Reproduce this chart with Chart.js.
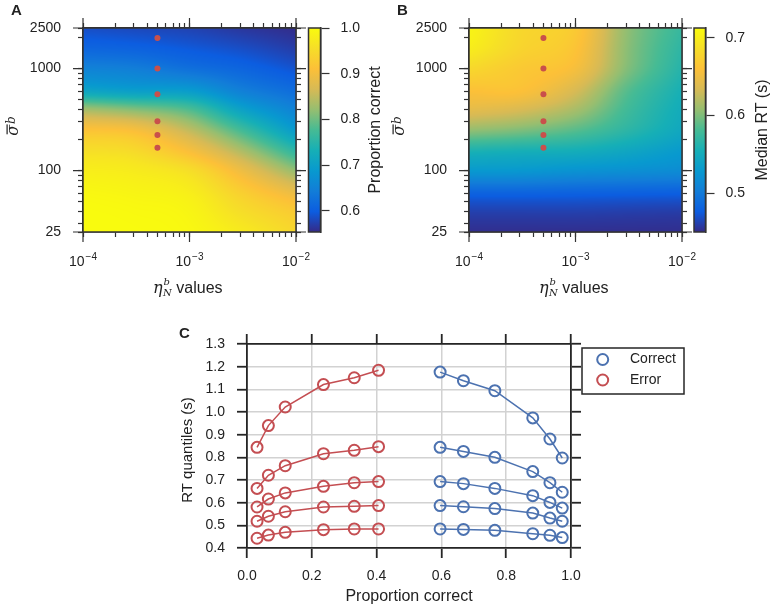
<!DOCTYPE html>
<html>
<head>
<meta charset="utf-8">
<title>Model fits</title>
<script src="https://cdn.jsdelivr.net/npm/chart.js@4.4.1/dist/chart.umd.min.js"></script>
<style>
  body { margin: 0; background: #fff; }
  #page { position: relative; width: 773px; height: 610px; overflow: hidden; background: #fff; }
  canvas { position: absolute; }
</style>
</head>
<body>
<div id="page">
  <canvas id="heatA" width="320" height="300" style="left:0px;top:0px"></canvas>
  <canvas id="barA" width="90" height="300" style="left:300px;top:0px"></canvas>
  <canvas id="heatB" width="320" height="300" style="left:386px;top:0px"></canvas>
  <canvas id="barB" width="88" height="300" style="left:685px;top:0px"></canvas>
  <canvas id="quant" width="530" height="310" style="left:170px;top:300px"></canvas>
</div>
<script>
Chart.defaults.font.family = "'Liberation Sans', Arial, Helvetica, sans-serif";
Chart.defaults.color = '#222';
Chart.defaults.animation = false;

// ---- panels A and B: values ----
const etaGrid = [1e-4, 3e-4, 1e-3, 3e-3, 1e-2];
const sigmaGrid = [25, 40, 60, 100, 150, 250, 400, 600, 1000, 1600, 2500];

// one row per sigma (ascending), one column per eta
const propCorrect = [
  [1.000, 1.000, 0.995, 0.975, 0.945],
  [1.000, 0.997, 0.990, 0.955, 0.925],
  [0.995, 0.990, 0.980, 0.935, 0.890],
  [0.980, 0.975, 0.955, 0.895, 0.820],
  [0.960, 0.952, 0.910, 0.845, 0.760],
  [0.915, 0.905, 0.850, 0.775, 0.690],
  [0.830, 0.810, 0.780, 0.705, 0.650],
  [0.712, 0.700, 0.695, 0.650, 0.620],
  [0.652, 0.645, 0.625, 0.610, 0.590],
  [0.610, 0.605, 0.595, 0.585, 0.570],
  [0.585, 0.580, 0.575, 0.565, 0.556]
];
const medianRT = [
  [0.452, 0.452, 0.452, 0.452, 0.452],
  [0.462, 0.462, 0.462, 0.461, 0.460],
  [0.481, 0.481, 0.480, 0.479, 0.478],
  [0.529, 0.528, 0.523, 0.520, 0.516],
  [0.555, 0.552, 0.550, 0.542, 0.529],
  [0.607, 0.600, 0.587, 0.568, 0.545],
  [0.644, 0.636, 0.615, 0.579, 0.550],
  [0.660, 0.660, 0.634, 0.587, 0.555],
  [0.681, 0.668, 0.655, 0.602, 0.563],
  [0.700, 0.678, 0.663, 0.605, 0.568],
  [0.707, 0.681, 0.668, 0.607, 0.573]
];

// red dots (fitted parameter sets)
const fitEta = [5e-4, 5e-4, 5e-4, 5e-4, 5e-4, 5e-4];
const fitSigma = [2000, 1000, 560, 305, 223, 167];

const etaTicks = [1e-4, 2e-4, 3e-4, 4e-4, 5e-4, 6e-4, 7e-4, 8e-4, 9e-4,
                  1e-3, 2e-3, 3e-3, 4e-3, 5e-3, 6e-3, 7e-3, 8e-3, 9e-3, 1e-2];
const etaMajor = [1e-4, 1e-3, 1e-2];
const etaExponents = ['−4', '−3', '−2'];
const sigmaTicks = [25, 30, 40, 50, 60, 70, 80, 90, 100, 200, 300, 400, 500,
                    600, 700, 800, 900, 1000, 2000, 2500];
const sigmaMajor = [25, 100, 1000, 2500];
const sigmaLabels = ['25', '100', '1000', '2500'];

const pcRange = [0.554, 1.0];
const pcTicks = [0.6, 0.7, 0.8, 0.9, 1.0];
const rtRange = [0.45, 0.7125];
const rtTicks = [0.5, 0.6, 0.7];

// ---- panel C: RT quantiles (0.1 .. 0.9) vs proportion ----
const seriesNames = ['Correct', 'Error'];
const errorProp = [0.031, 0.066, 0.118, 0.236, 0.331, 0.406];
const correctProp = [0.596, 0.668, 0.765, 0.882, 0.935, 0.973];
const errorQuantiles = [
  [0.443, 0.457, 0.469, 0.481, 0.484, 0.484],
  [0.518, 0.540, 0.560, 0.581, 0.584, 0.587],
  [0.581, 0.616, 0.643, 0.672, 0.688, 0.693],
  [0.663, 0.721, 0.763, 0.816, 0.831, 0.847],
  [0.844, 0.940, 1.022, 1.121, 1.151, 1.184]
];
const correctQuantiles = [
  [0.484, 0.482, 0.478, 0.463, 0.456, 0.446],
  [0.587, 0.582, 0.574, 0.554, 0.532, 0.518],
  [0.693, 0.684, 0.663, 0.631, 0.601, 0.576],
  [0.844, 0.826, 0.800, 0.737, 0.688, 0.646],
  [1.176, 1.138, 1.094, 0.974, 0.881, 0.797]
];
const qTicksX = [0, 0.2, 0.4, 0.6, 0.8, 1.0];
const qTicksY = [0.4, 0.5, 0.6, 0.7, 0.8, 0.9, 1.0, 1.1, 1.2, 1.3];

const RED = '#c44e52';
const BLUE = '#4c72b0';
const DOT = '#c9504b';
const INK = '#222';
const SANS = "'Liberation Sans', Arial, sans-serif";
const SERIF = '"DejaVu Serif", "Liberation Serif", serif';

// parula-like colour map
const cmapStops = [[53, 42, 135], [12, 93, 224], [18, 125, 216], [8, 153, 207],
  [22, 175, 182], [70, 187, 148], [150, 190, 112], [215, 186, 85],
  [252, 192, 56], [246, 222, 40], [249, 251, 14]];

function cmap(t) {
  t = Math.max(0, Math.min(1, t));
  const f = t * (cmapStops.length - 1);
  const i = Math.min(Math.floor(f), cmapStops.length - 2);
  const u = f - i, a = cmapStops[i], b = cmapStops[i + 1];
  return [a[0] + (b[0] - a[0]) * u, a[1] + (b[1] - a[1]) * u, a[2] + (b[2] - a[2]) * u];
}

const logEta = etaGrid.map(Math.log10);
const logSigma = sigmaGrid.map(Math.log10);

function seg(arr, v) {
  let i = 0;
  while (i < arr.length - 2 && v > arr[i + 1]) i++;
  return i;
}

// smooth (cubic hermite) lookup between the grid nodes, for drawing only
function hermite(xs, ys, x) {
  const n = xs.length, i = seg(xs, x);
  const h = xs[i + 1] - xs[i];
  const t = Math.max(0, Math.min(1, (x - xs[i]) / h));
  const slope = k => k === 0 ? (ys[1] - ys[0]) / (xs[1] - xs[0])
    : k === n - 1 ? (ys[n - 1] - ys[n - 2]) / (xs[n - 1] - xs[n - 2])
    : (ys[k + 1] - ys[k - 1]) / (xs[k + 1] - xs[k - 1]);
  const t2 = t * t, t3 = t2 * t;
  return (2 * t3 - 3 * t2 + 1) * ys[i] + (t3 - 2 * t2 + t) * h * slope(i)
    + (-2 * t3 + 3 * t2) * ys[i + 1] + (t3 - t2) * h * slope(i + 1);
}

function heatmapLayer(grid, range) {
  return {
    id: 'heatmapLayer',
    beforeDatasetsDraw(chart) {
      const { left, top, right, bottom } = chart.chartArea;
      const w = Math.ceil(right - left), h = Math.ceil(bottom - top);
      const off = document.createElement('canvas');
      off.width = w; off.height = h;
      const octx = off.getContext('2d');
      const img = octx.createImageData(w, h);
      const cols = [];
      for (let i = 0; i < w; i++) {
        const lx = Math.log10(chart.scales.x.getValueForPixel(left + i + 0.5));
        cols.push(grid.map(row => hermite(logEta, row, lx)));
      }
      for (let j = 0; j < h; j++) {
        const ly = Math.log10(chart.scales.y.getValueForPixel(top + j + 0.5));
        for (let i = 0; i < w; i++) {
          const val = hermite(logSigma, cols[i], ly);
          const c = cmap((val - range[0]) / (range[1] - range[0]));
          const k = (j * w + i) * 4;
          img.data[k] = c[0]; img.data[k + 1] = c[1]; img.data[k + 2] = c[2]; img.data[k + 3] = 255;
        }
      }
      octx.putImageData(img, 0, 0);
      chart.ctx.drawImage(off, left, top);
    }
  };
}

function drawSigmaLabel(ctx, cx, cy) {
  ctx.save();
  ctx.translate(cx, cy);
  ctx.rotate(-Math.PI / 2);
  ctx.fillStyle = INK;
  ctx.textAlign = 'left';
  ctx.textBaseline = 'alphabetic';
  ctx.font = 'italic 16px ' + SERIF;
  const ws = ctx.measureText('σ').width;
  ctx.font = 'italic 12px ' + SERIF;
  const wb = ctx.measureText('b').width;
  const x0 = -(ws + wb + 1) / 2;
  ctx.font = 'italic 16px ' + SERIF;
  ctx.fillText('σ', x0, 5);
  ctx.fillRect(x0 + 1.5, -6.5, ws - 1, 1.2);
  ctx.font = 'italic 12px ' + SERIF;
  ctx.fillText('b', x0 + ws + 1, 2);
  ctx.restore();
}

function drawEtaLabel(ctx, x, y) {
  ctx.save();
  ctx.fillStyle = INK;
  ctx.textAlign = 'left';
  ctx.textBaseline = 'alphabetic';
  ctx.font = 'italic 16px ' + SERIF;
  ctx.fillText('η', x, y);
  const we = ctx.measureText('η').width;
  ctx.font = 'italic 10px ' + SERIF;
  const wn = ctx.measureText('N').width;
  ctx.fillText('N', x + we + 0.5, y + 3);
  ctx.fillText('b', x + we + 1, y - 8);
  ctx.font = '16px ' + SANS;
  ctx.fillText('values', x + we + wn + 5, y);
  ctx.restore();
}

function heatDecor(letter) {
  return {
    id: 'heatDecor',
    afterDraw(chart) {
      const ctx = chart.ctx, a = chart.chartArea, s = chart.scales;
      ctx.save();
      ctx.strokeStyle = '#333';
      ctx.lineWidth = 1.2;
      ctx.beginPath();
      etaMajor.forEach(v => {
        const px = s.x.getPixelForValue(v);
        ctx.moveTo(px, a.bottom); ctx.lineTo(px, a.bottom + 10);
        ctx.moveTo(px, a.top); ctx.lineTo(px, a.top - 10);
      });
      sigmaMajor.forEach(v => {
        const py = s.y.getPixelForValue(v);
        ctx.moveTo(a.left, py); ctx.lineTo(a.left - 10, py);
        ctx.moveTo(a.right, py); ctx.lineTo(a.right + 10, py);
      });
      ctx.stroke();
      ctx.lineWidth = 1.5;
      ctx.strokeRect(a.left, a.top, a.right - a.left, a.bottom - a.top);

      // 10^n tick labels with a raised exponent
      ctx.fillStyle = INK;
      ctx.textAlign = 'left';
      ctx.textBaseline = 'alphabetic';
      etaMajor.forEach((v, k) => {
        const px = s.x.getPixelForValue(v);
        ctx.font = '14px ' + SANS;
        const wb = ctx.measureText('10').width;
        ctx.font = '10px ' + SANS;
        const we = ctx.measureText(etaExponents[k]).width;
        const x0 = px - (wb + we + 1) / 2;
        ctx.font = '14px ' + SANS;
        ctx.fillText('10', x0, 266);
        ctx.font = '10px ' + SANS;
        ctx.fillText(etaExponents[k], x0 + wb + 1, 260);
      });

      ctx.font = 'bold 15px ' + SANS;
      ctx.fillText(letter, 11, 15);
      ctx.restore();
      drawSigmaLabel(ctx, 13, 126);
      drawEtaLabel(ctx, a.left + 70, 293);
    }
  };
}

function heatAxis(axis, position, ticks, major, labels, size) {
  const horiz = axis === 'x';
  return {
    type: 'logarithmic',
    axis: axis,
    position: position,
    min: ticks[0],
    max: ticks[ticks.length - 1],
    afterBuildTicks: s => { s.ticks = ticks.map(v => ({ value: v })); },
    afterFit: s => {
      if (horiz) s.height = size; else s.width = size;
      s.paddingLeft = s.paddingRight = s.paddingTop = s.paddingBottom = 0;
    },
    ticks: {
      display: !!labels,
      autoSkip: false,
      maxRotation: 0,
      padding: 17,
      font: { size: 14 },
      color: INK,
      callback: v => (labels ? (labels[major.indexOf(v)] || '') : '')
    },
    grid: { drawOnChartArea: false, tickLength: 5, tickWidth: 1.2, tickColor: '#333' },
    border: { color: '#333', width: 1.5 }
  };
}

function makeHeatmap(id, grid, range, letter) {
  return new Chart(document.getElementById(id), {
    type: 'scatter',
    data: {
      datasets: [{
        label: 'fits',
        data: fitEta.map((x, i) => ({ x: x, y: fitSigma[i] })),
        pointRadius: 3,
        backgroundColor: DOT,
        borderWidth: 0
      }]
    },
    options: {
      responsive: false,
      devicePixelRatio: 1,
      events: [],
      layout: { padding: 0 },
      plugins: { legend: { display: false }, tooltip: { enabled: false } },
      scales: {
        x: heatAxis('x', 'bottom', etaTicks, etaMajor, null, 68),
        x2: heatAxis('x', 'top', etaTicks, etaMajor, null, 28),
        y: heatAxis('y', 'left', sigmaTicks, sigmaMajor, sigmaLabels, 83),
        y2: heatAxis('y', 'right', sigmaTicks, sigmaMajor, null, 24)
      }
    },
    plugins: [heatmapLayer(grid, range), heatDecor(letter)]
  });
}

function colorbarLayer(range, title, titleX) {
  return {
    id: 'colorbarLayer',
    afterDraw(chart) {
      const ctx = chart.ctx, a = chart.chartArea, y = chart.scales.y;
      const y0 = y.getPixelForValue(range[0]), y1 = y.getPixelForValue(range[1]);
      const g = ctx.createLinearGradient(0, y0, 0, y1);
      cmapStops.forEach((c, i) => g.addColorStop(i / (cmapStops.length - 1), 'rgb(' + c.join(',') + ')'));
      ctx.save();
      ctx.fillStyle = g;
      ctx.fillRect(a.left, y1, a.right - a.left, y0 - y1);
      ctx.strokeStyle = '#333';
      ctx.lineWidth = 1.5;
      ctx.strokeRect(a.left, a.top, a.right - a.left, a.bottom - a.top);
      ctx.translate(titleX, (a.top + a.bottom) / 2);
      ctx.rotate(-Math.PI / 2);
      ctx.fillStyle = INK;
      ctx.font = '16px ' + SANS;
      ctx.textAlign = 'center';
      ctx.textBaseline = 'middle';
      ctx.fillText(title, 0, 0);
      ctx.restore();
    }
  };
}

function makeColorbar(id, range, ticks, title, padLeft, axisWidth, titleX) {
  return new Chart(document.getElementById(id), {
    type: 'bar',
    data: { labels: [''], datasets: [] },
    options: {
      responsive: false,
      devicePixelRatio: 1,
      events: [],
      layout: { padding: { left: padLeft, top: 28, bottom: 68, right: 0 } },
      plugins: { legend: { display: false }, tooltip: { enabled: false } },
      scales: {
        x: { display: false },
        y: {
          position: 'right',
          min: range[0],
          max: range[1],
          afterBuildTicks: s => { s.ticks = ticks.map(v => ({ value: v })); },
          afterFit: s => { s.width = axisWidth; s.paddingTop = s.paddingBottom = 0; },
          ticks: { padding: 11, font: { size: 14 }, color: INK, callback: v => v.toFixed(1) },
          grid: { drawOnChartArea: false, tickLength: 9, tickWidth: 1.2, tickColor: '#333' },
          border: { color: '#333', width: 1.5 }
        }
      }
    },
    plugins: [colorbarLayer(range, title, titleX)]
  });
}

makeHeatmap('heatA', propCorrect, pcRange, 'A');
makeColorbar('barA', pcRange, pcTicks, 'Proportion correct', 8.5, 69.5, 76);
makeHeatmap('heatB', medianRT, rtRange, 'B');
makeColorbar('barB', rtRange, rtTicks, 'Median RT (s)', 9, 67.5, 78);

// ---- panel C ----
function series(name, xs, ys, color) {
  return {
    label: name,
    data: xs.map((x, i) => ({ x: x, y: ys[i] })),
    showLine: true,
    borderColor: color,
    borderWidth: 1.5,
    pointRadius: 5.5,
    pointBorderWidth: 2,
    pointBorderColor: color,
    pointBackgroundColor: 'rgba(0,0,0,0)',
    clip: false
  };
}

const quantSets = [];
correctQuantiles.forEach(q => quantSets.push(series(seriesNames[0], correctProp, q, BLUE)));
errorQuantiles.forEach(q => quantSets.push(series(seriesNames[1], errorProp, q, RED)));

function quantAxis(axis, position, ticks, size, withLabels) {
  const horiz = axis === 'x';
  return {
    type: 'linear',
    axis: axis,
    position: position,
    min: ticks[0],
    max: ticks[ticks.length - 1],
    afterBuildTicks: s => { s.ticks = ticks.map(v => ({ value: v })); },
    afterFit: s => {
      if (horiz) s.height = size; else s.width = size;
      s.paddingLeft = s.paddingRight = s.paddingTop = s.paddingBottom = 0;
    },
    ticks: {
      display: withLabels,
      autoSkip: false,
      maxRotation: 0,
      padding: horiz ? 10 : 12,
      font: { size: 14 },
      color: INK,
      callback: v => v.toFixed(1)
    },
    grid: {
      drawOnChartArea: withLabels,
      color: '#d2d2d2',
      lineWidth: 1.5,
      tickLength: 10,
      tickWidth: 1.8,
      tickColor: '#262626'
    },
    border: { color: '#262626', width: 1.8 }
  };
}

const quantDecor = {
  id: 'quantDecor',
  afterDraw(chart) {
    const ctx = chart.ctx, a = chart.chartArea;
    ctx.save();
    ctx.fillStyle = INK;
    ctx.font = 'bold 15px ' + SANS;
    ctx.textAlign = 'left';
    ctx.textBaseline = 'alphabetic';
    ctx.fillText('C', 9, 38);

    ctx.font = '16px ' + SANS;
    ctx.textAlign = 'center';
    ctx.fillText('Proportion correct', (a.left + a.right) / 2, 301);

    ctx.save();
    ctx.translate(17.5, 150);
    ctx.rotate(-Math.PI / 2);
    ctx.font = '15px ' + SANS;
    ctx.textBaseline = 'middle';
    ctx.fillText('RT quantiles (s)', 0, 0);
    ctx.restore();

    // legend box
    ctx.strokeStyle = '#262626';
    ctx.lineWidth = 1.5;
    ctx.fillStyle = '#fff';
    ctx.fillRect(412, 48, 102, 46);
    ctx.strokeRect(412, 48, 102, 46);
    [[BLUE, 59.5], [RED, 80]].forEach((e, k) => {
      ctx.strokeStyle = e[0];
      ctx.lineWidth = 2;
      ctx.beginPath();
      ctx.arc(432.7, e[1], 5.5, 0, Math.PI * 2);
      ctx.stroke();
      ctx.fillStyle = INK;
      ctx.font = '14px ' + SANS;
      ctx.textAlign = 'left';
      ctx.textBaseline = 'middle';
      ctx.fillText(seriesNames[k], 460, e[1]);
    });
    ctx.restore();
  }
};

new Chart(document.getElementById('quant'), {
  type: 'scatter',
  data: { datasets: quantSets },
  options: {
    responsive: false,
    devicePixelRatio: 1,
    events: [],
    layout: { padding: 0 },
    plugins: { legend: { display: false }, tooltip: { enabled: false } },
    scales: {
      x: quantAxis('x', 'bottom', qTicksX, 62, true),
      x2: quantAxis('x', 'top', qTicksX, 44, false),
      y: quantAxis('y', 'left', qTicksY, 77, true),
      y2: quantAxis('y', 'right', qTicksY, 129, false)
    }
  },
  plugins: [quantDecor]
});
</script>
</body>
</html>
